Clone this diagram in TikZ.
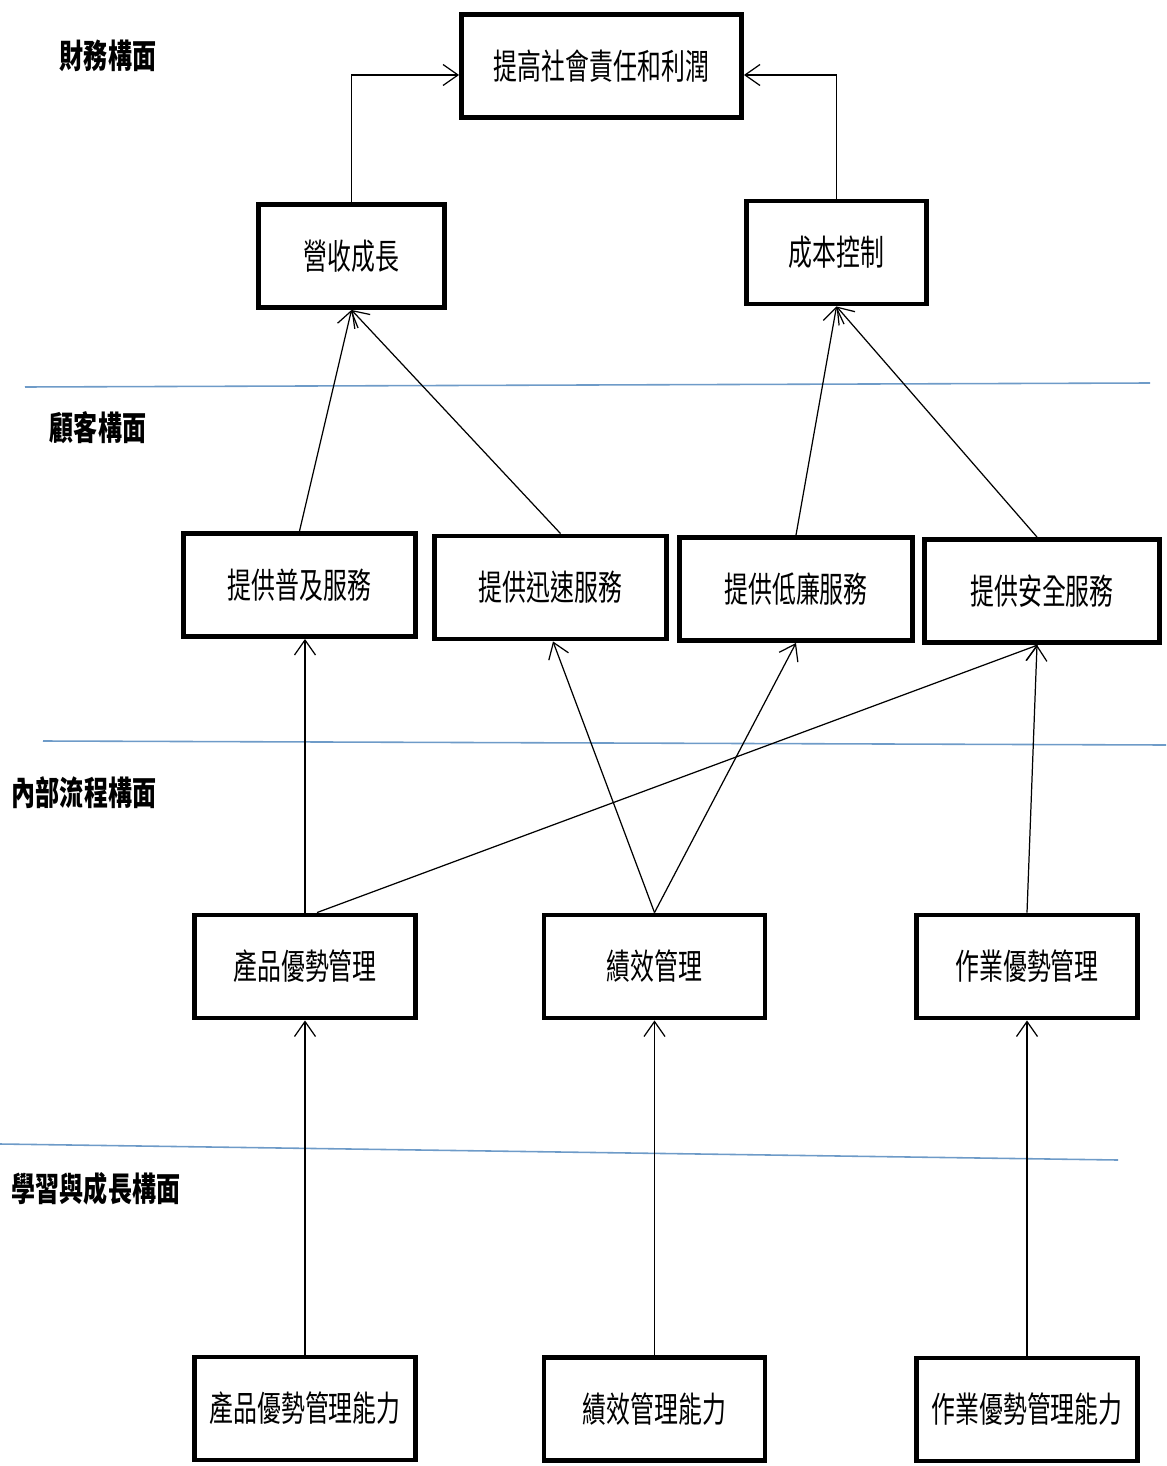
\documentclass[tikz,border=0pt]{standalone}
\usepackage{fontspec}
\usetikzlibrary{arrows.meta}
\newfontfamily\cjk[FakeStretch=0.68]{Noto Sans CJK TC}
\newfontfamily\cjklabel[FakeStretch=0.72]{Noto Sans CJK TC}
\definecolor{sepblue}{RGB}{110,155,200}
\begin{document}
\begin{tikzpicture}[x=0.02cm,y=-0.02cm,
  box/.style={draw,line width=2.8pt,rectangle,inner sep=0pt,
    font=\cjk\fontsize{20pt}{24pt}\selectfont,
    minimum width=#1,minimum height=2.06cm},
  box/.default=4.42cm,
  layer/.style={font=\cjklabel\bfseries\fontsize{19pt}{23pt}\selectfont,inner sep=0pt},
  link/.style={line width=0.7pt,-{Straight Barb[length=3mm,width=4.2mm,line width=0.7pt]}},
  sep/.style={draw=sepblue,line width=0.9pt}]
\useasboundingbox (0,0) rectangle (1166,1466);

% layer separators
\draw[sep] (25,387) -- (1150,383);
\draw[sep] (43,741) -- (1166,745);
\draw[sep] (0,1144) -- (1118,1160);

% layer titles
\node[layer] (t1) at (108,56)   {財務構面};
\node[layer] (t2) at (98,428)   {顧客構面};
\node[layer] (t3) at (84,793)   {內部流程構面};
\node[layer] (t4) at (96,1189)  {學習與成長構面};

% financial
\node[box=5.6cm]  (top)  at (601.5,66)  {提高社會責任和利潤};
\node[box=3.72cm] (rev)  at (351.5,256) {營收成長};
\node[box=3.6cm]  (cost) at (836.5,252.5) {成本控制};

% customer
\node[box=4.64cm] (c1) at (299.5,585) {提供普及服務};
\node[box=4.64cm] (c2) at (550.5,587.5) {提供迅速服務};
\node[box=4.66cm] (c3) at (796,589) {提供低廉服務};
\node[box=4.7cm]  (c4) at (1042,591) {提供安全服務};

% internal process
\node[box] (p1) at (305,966.5) {產品優勢管理};
\node[box] (p2) at (654.5,966.5) {績效管理};
\node[box] (p3) at (1027,966.5) {作業優勢管理};

% learning and growth
\node[box] (l1) at (305,1408.5) {產品優勢管理能力};
\node[box] (l2) at (654.5,1409) {績效管理能力};
\node[box] (l3) at (1027,1409.5) {作業優勢管理能力};

% learning -> process
\draw[link] (l1.north) -- (p1.south);
\draw[link] (l2.north) -- (p2.south);
\draw[link] (l3.north) -- (p3.south);

% process -> customer
\draw[link] (p1.north) -- (p1.north |- c1.south);
\draw[link] ([xshift=0.24cm]p1.north) -- ([xshift=-0.08cm]c4.south);
\draw[link] (p2.north) -- ([xshift=0.05cm]c2.south);
\draw[link] (p2.north) -- (c3.south);
\draw[link] (p3.north) -- ([xshift=-0.1cm]c4.south);

% customer -> financial
\draw[link] (c1.north) -- (rev.south);
\draw[link] ([xshift=0.2cm]c2.north) -- (rev.south);
\draw[link] (c3.north) -- (cost.south);
\draw[link] ([xshift=-0.1cm]c4.north) -- (cost.south);

% financial -> goal
\draw[link] (rev.north) |- ([yshift=-0.18cm]top.west);
\draw[link] (cost.north) |- ([yshift=-0.18cm]top.east);
\end{tikzpicture}
\end{document}
